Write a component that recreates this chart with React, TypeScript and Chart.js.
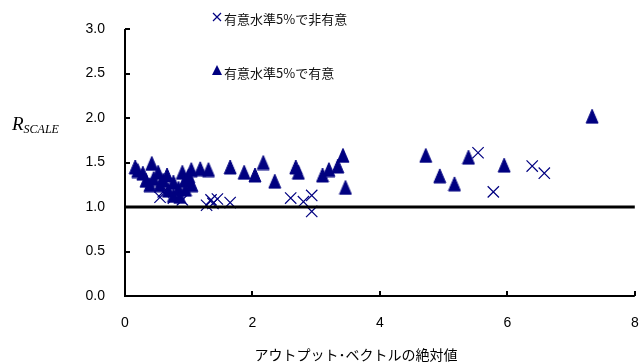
import React, { useEffect, useRef } from "react";
import { Chart, registerables } from "chart.js";

Chart.register(...registerables);

// 有意水準5%で有意 (triangles)
const sigX = [
  0.16, 0.2, 0.28, 0.33, 0.42, 0.45, 0.39, 0.52, 0.55, 0.6, 0.66, 0.68, 0.76, 0.76, 0.84, 0.86, 0.9, 0.94, 0.95,
  0.99, 1.0, 1.04, 1.05, 1.18, 1.31,
  1.65, 1.87, 2.04, 2.17, 2.35, 2.68, 2.72, 3.1, 3.2, 3.34, 3.42, 3.46,
  4.72, 4.94, 5.17, 5.39, 5.95, 7.33,
];
const sigY = [
  1.45, 1.41, 1.38, 1.3, 1.49, 1.32, 1.25, 1.39, 1.25, 1.3, 1.36, 1.19, 1.28, 1.13, 1.21, 1.12, 1.39, 1.3, 1.2,
  1.33, 1.35, 1.42, 1.25, 1.43, 1.42,
  1.45, 1.39, 1.36, 1.5, 1.29, 1.45, 1.39, 1.36, 1.42, 1.46, 1.58, 1.22,
  1.58, 1.35, 1.26, 1.56, 1.47, 2.02,
];

// 有意水準5%で非有意 (crosses)
const nonSigX = [0.55, 0.6, 0.76, 0.9, 1.28, 1.35, 1.38, 1.45, 1.65, 2.6, 2.8, 2.93, 2.93, 5.54, 5.78, 6.39, 6.58];
const nonSigY = [1.11, 1.17, 1.1, 1.08, 1.02, 1.08, 1.04, 1.09, 1.05, 1.1, 1.06, 1.13, 0.95, 1.61, 1.17, 1.46, 1.38];

const yTicks = [0, 0.5, 1.0, 1.5, 2.0, 2.5, 3.0];
const xTicks = [0, 2, 4, 6, 8];
const refLineValue = 1.0;

const legendNonSig = "有意水準5%で非有意";
const legendSig = "有意水準5%で有意";
const xTitle = "アウトプット･ベクトルの絶対値";
const yTitleMain = "R";
const yTitleSub = "SCALE";

const NAVY = "#000080";
const LATIN = '"Liberation Sans", Arial, sans-serif';
const CJK = '"Noto Sans CJK JP", "Liberation Sans", sans-serif';

const toPoints = (xs: number[], ys: number[]) => xs.map((x, i) => ({ x, y: ys[i] }));

// Tall filled triangle marker, used as a point image
function makeTriangle(w: number, h: number): HTMLCanvasElement {
  const c = document.createElement("canvas");
  c.width = w + 2;
  c.height = h + 2;
  const g = c.getContext("2d")!;
  g.fillStyle = NAVY;
  g.strokeStyle = NAVY;
  g.lineWidth = 1;
  g.lineJoin = "round";
  g.beginPath();
  g.moveTo(c.width / 2, 1);
  g.lineTo(w + 1, h + 1);
  g.lineTo(1, h + 1);
  g.closePath();
  g.fill();
  g.stroke();
  return c;
}

const decorations = {
  id: "decorations",
  afterDatasetsDraw(chart: any) {
    const { ctx, chartArea, scales } = chart;
    const { left, right, top, bottom } = chartArea;
    const xs = scales.x;
    const ys = scales.y;
    ctx.save();

    // axes
    ctx.strokeStyle = "#000";
    ctx.lineWidth = 2;
    ctx.beginPath();
    ctx.moveTo(left, top);
    ctx.lineTo(left, bottom);
    ctx.lineTo(right, bottom);
    ctx.stroke();

    // inward tick marks
    yTicks.forEach((v) => {
      const py = Math.round(ys.getPixelForValue(v));
      ctx.beginPath();
      ctx.moveTo(left, py);
      ctx.lineTo(left + 5, py);
      ctx.stroke();
    });
    xTicks.forEach((v) => {
      const px = Math.round(xs.getPixelForValue(v));
      ctx.beginPath();
      ctx.moveTo(px, bottom);
      ctx.lineTo(px, bottom - 5);
      ctx.stroke();
    });

    // reference line
    const ry = ys.getPixelForValue(refLineValue);
    ctx.lineWidth = 3;
    ctx.beginPath();
    ctx.moveTo(left, ry);
    ctx.lineTo(right, ry);
    ctx.stroke();

    // legend
    ctx.strokeStyle = NAVY;
    ctx.fillStyle = NAVY;
    ctx.lineWidth = 1.2;
    const lx = 217;
    const cy1 = 17;
    const cy2 = 71;
    ctx.beginPath();
    ctx.moveTo(lx - 4, cy1 - 4);
    ctx.lineTo(lx + 4, cy1 + 4);
    ctx.moveTo(lx + 4, cy1 - 4);
    ctx.lineTo(lx - 4, cy1 + 4);
    ctx.stroke();
    ctx.beginPath();
    ctx.moveTo(lx, cy2 - 6);
    ctx.lineTo(lx + 5, cy2 + 4);
    ctx.lineTo(lx - 5, cy2 + 4);
    ctx.closePath();
    ctx.fill();

    ctx.fillStyle = "#111";
    ctx.font = `13px ${CJK}`;
    ctx.textAlign = "left";
    ctx.textBaseline = "middle";
    ctx.fillText(legendNonSig, 224, cy1 + 2);
    ctx.fillText(legendSig, 224, cy2 + 2);

    // x title
    ctx.fillStyle = "#000";
    ctx.font = `14px ${CJK}`;
    ctx.textAlign = "center";
    ctx.fillText(xTitle, (left + right) / 2 - 24, 355);

    // y title: R with subscript
    ctx.textAlign = "left";
    ctx.textBaseline = "alphabetic";
    ctx.font = `italic 19px "Liberation Serif", "DejaVu Serif", serif`;
    ctx.fillText(yTitleMain, 12, 130);
    const rw = ctx.measureText(yTitleMain).width;
    ctx.font = `italic 12px "Liberation Serif", "DejaVu Serif", serif`;
    ctx.fillText(yTitleSub, 12 + rw, 133);

    ctx.restore();
  },
};

export default function App() {
  const ref = useRef<HTMLCanvasElement | null>(null);

  useEffect(() => {
    document.body.style.margin = "0";
    if (!ref.current) return;
    const triangle = makeTriangle(12, 14);
    const chart = new Chart(ref.current, {
      type: "scatter",
      data: {
        datasets: [
          {
            label: legendSig,
            data: toPoints(sigX, sigY),
            pointStyle: triangle,
            pointRadius: 7,
            backgroundColor: NAVY,
            borderColor: NAVY,
          },
          {
            label: legendNonSig,
            data: toPoints(nonSigX, nonSigY),
            pointStyle: "crossRot",
            pointRadius: 8,
            borderColor: NAVY,
            backgroundColor: NAVY,
            borderWidth: 1.2,
          },
        ],
      },
      options: {
        responsive: false,
        animation: false,
        events: [],
        layout: { padding: { left: 0, right: 9, top: 29, bottom: 0 } },
        plugins: { legend: { display: false }, tooltip: { enabled: false } },
        scales: {
          x: {
            type: "linear",
            min: 0,
            max: 8,
            afterFit: (s: any) => {
              s.height = 68;
              s.paddingLeft = 0;
              s.paddingRight = 0;
            },
            afterBuildTicks: (s: any) => {
              s.ticks = xTicks.map((v) => ({ value: v }));
            },
            grid: { display: false, drawTicks: false },
            border: { display: false },
            ticks: {
              color: "#000",
              font: { family: LATIN, size: 14 },
              padding: 19,
              maxRotation: 0,
              callback: (v: any) => String(v),
            },
          },
          y: {
            type: "linear",
            min: 0,
            max: 3,
            afterFit: (s: any) => {
              s.width = 125;
              s.paddingTop = 0;
              s.paddingBottom = 0;
            },
            afterBuildTicks: (s: any) => {
              s.ticks = yTicks.map((v) => ({ value: v }));
            },
            grid: { display: false, drawTicks: false },
            border: { display: false },
            ticks: {
              color: "#000",
              font: { family: LATIN, size: 14 },
              padding: 20,
              callback: (v: any) => Number(v).toFixed(1),
            },
          },
        },
      },
      plugins: [decorations],
    });
    return () => chart.destroy();
  }, []);

  return (
    <div style={{ width: 644, height: 364, background: "#fff" }}>
      <canvas ref={ref} width={644} height={364} style={{ display: "block" }} />
    </div>
  );
}
